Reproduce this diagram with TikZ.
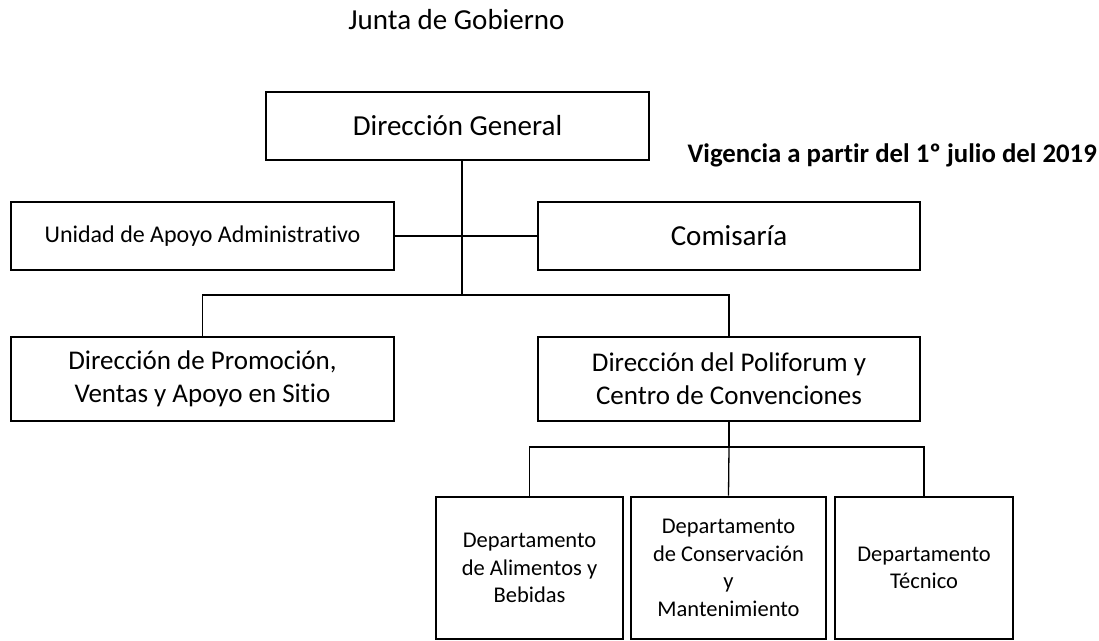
\documentclass[tikz,border=0pt]{standalone}
\usepackage{fontspec}
\setmainfont{Carlito}[Ligatures={NoCommon}]
\begin{document}
\begin{tikzpicture}[x=1pt,y=-1pt,
  box/.style={draw=black, line width=2.9pt, inner sep=0pt, align=center},
  conn/.style={draw=black, line width=1.3pt},
  big/.style={font=\fontsize{29}{35}\selectfont},
  mid/.style={font=\fontsize{27}{33}\selectfont},
  small/.style={font=\fontsize{24}{29}\selectfont},
  dept/.style={font=\fontsize{22.5}{27.5}\selectfont}]
\useasboundingbox (0,0) rectangle (1099,640);
\fill[white] (0,0) rectangle (1099,640);

\node[big, inner sep=0pt] (junta) at (456.5,20) {Junta de Gobierno};
\node[font=\fontsize{26.8}{32}\selectfont\bfseries, inner sep=0pt, anchor=east] (vig) at (1097,155) {Vigencia a partir del 1º julio del 2019};

\node[box, big, minimum width=383, minimum height=68] (dg) at (457.5,126) {Dirección General};
\node[box, small, minimum width=383, minimum height=68] (uaa) at (202.5,236) {Unidad de Apoyo Administrativo};
\node[box, big, minimum width=382, minimum height=68] (com) at (729,236) {Comisaría};
\node[box, mid, minimum width=383, minimum height=84] (prom) at (202.5,379) {Dirección de Promoción,\\Ventas y Apoyo en Sitio};
\node[box, mid, minimum width=382, minimum height=84] (poli) at (729,379) {Dirección del Poliforum y\\Centro de Convenciones};
\node[box, dept, minimum width=187, minimum height=142] (d1) at (529.5,568) {Departamento\\de Alimentos y\\Bebidas};
\node[box, dept, minimum width=195, minimum height=142] (d2) at (728.5,568) {Departamento\\de Conservación\\y\\Mantenimiento};
\node[box, dept, minimum width=178, minimum height=142] (d3) at (924,568) {Departamento\\Técnico};

\coordinate (dgb) at (462,160);
\coordinate (bus1) at (462,295);
\coordinate (bus2) at (729,447);

\draw[conn] (dgb) -- (bus1);
\draw[conn] (uaa.east) -- (com.west);
\draw[conn] (prom.north) |- (bus1) -| (poli.north);
\draw[conn] (poli.south) -- (bus2);
\draw[conn] (d1.north) |- (bus2) -| (d3.north);
\draw[conn] (bus2) -- (d2.north);
\end{tikzpicture}
\end{document}
